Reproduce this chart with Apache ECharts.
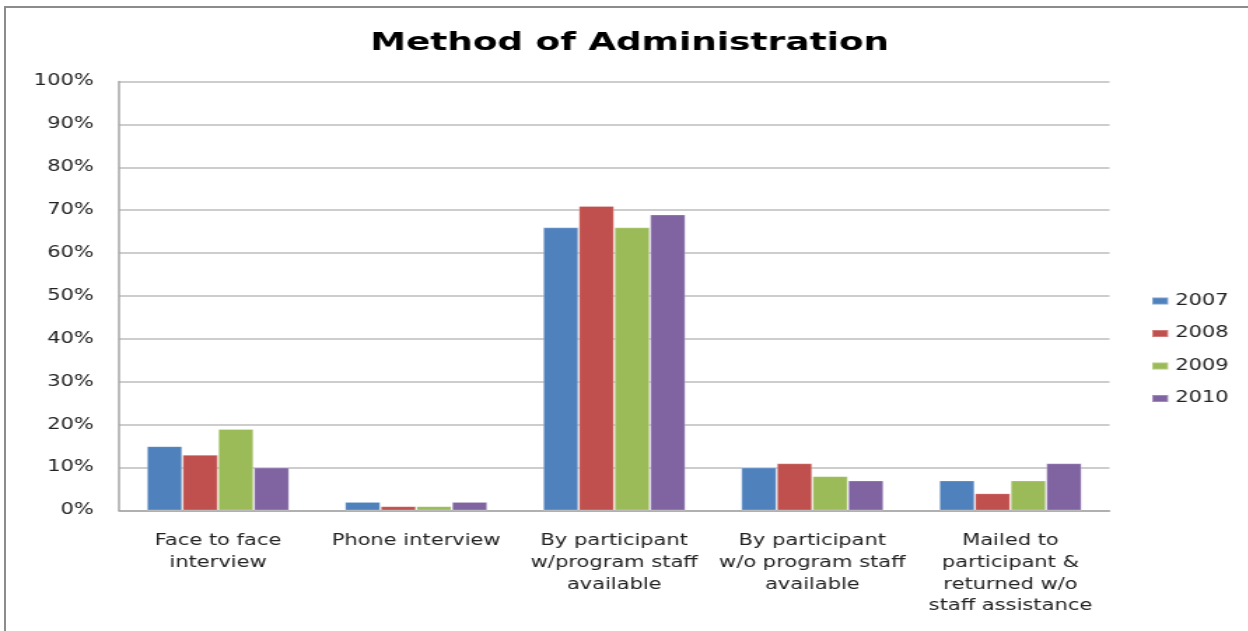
<!DOCTYPE html>
<html>
<head>
<meta charset="utf-8">
<title>Method of Administration</title>
<script src="https://cdn.jsdelivr.net/npm/echarts@6/dist/echarts.min.js"></script>
<style>
  html, body { margin: 0; padding: 0; background: #fff; }
  #wrap { position: relative; width: 1248px; height: 631px; overflow: hidden; background: #fff; }
  #frame { position: absolute; left: 4px; top: 6px; width: 1300px; height: 700px; border: 2px solid #8c8c8c; box-sizing: border-box; }
  /* the chart is laid out on a narrower canvas and widened, giving the broad lettering of the original slide */
  #chart { position: absolute; left: 0; top: 0; width: 891.43px; height: 631px; transform: scaleX(1.4); transform-origin: 0 0; }
</style>
</head>
<body>
<div id="wrap">
  <div id="frame"></div>
  <div id="chart"></div>
</div>
<script>
// Administration methods (x axis)
const categories = [
  'Face to face\ninterview',
  'Phone interview',
  'By participant\nw/program staff\navailable',
  'By participant\nw/o program staff\navailable',
  'Mailed to\nparticipant &\nreturned w/o\nstaff assistance'
];

// Share of respondents per year, in percent
const years = ['2007', '2008', '2009', '2010'];
const values2007 = [15, 2, 66, 10, 7];
const values2008 = [13, 1, 71, 11, 4];
const values2009 = [19, 1, 66, 8, 7];
const values2010 = [10, 2, 69, 7, 11];

const yearValues = [values2007, values2008, values2009, values2010];
const colors = ['#4F81BD', '#C0504D', '#9BBB59', '#8064A2'];

const font = 'DejaVu Sans';
const chart = echarts.init(document.getElementById('chart'), null, { renderer: 'canvas' });

chart.setOption({
  backgroundColor: 'transparent',
  animation: false,
  color: colors,
  title: {
    text: 'Method of Administration',
    left: 259.5,
    top: 25,
    textStyle: { fontFamily: font, fontWeight: 'bold', fontSize: 25.6, color: '#000' }
  },
  legend: {
    orient: 'vertical',
    left: 817,
    top: 288,
    itemWidth: 11.4,
    itemHeight: 7,
    itemGap: 16.5,
    icon: 'rect',
    textStyle: { fontFamily: font, fontSize: 15, color: '#222', lineHeight: 16, padding: [0, 0, 0, 0] },
    data: years
  },
  grid: {
    left: 85,
    right: 98.5,
    top: 81.5,
    bottom: 120.5,
    containLabel: false
  },
  xAxis: {
    type: 'category',
    data: categories,
    axisLine: { show: true, lineStyle: { color: '#a6a6a6', width: 1.5 } },
    axisTick: { show: false },
    axisLabel: {
      interval: 0,
      margin: 20,
      fontFamily: font,
      fontSize: 15,
      lineHeight: 21.7,
      color: '#222',
      align: 'center'
    }
  },
  yAxis: {
    type: 'value',
    min: 0,
    max: 100,
    interval: 10,
    axisLine: { show: true, lineStyle: { color: '#a6a6a6', width: 1.5 } },
    axisTick: { show: false },
    splitLine: { show: true, lineStyle: { color: '#bdbdbd', width: 1.5 } },
    axisLabel: {
      formatter: '{value}%',
      margin: 18,
      fontFamily: font,
      fontSize: 15,
      color: '#222'
    }
  },
  series: years.map((y, i) => ({
    name: y,
    type: 'bar',
    data: yearValues[i],
    barGap: '0%',
    barCategoryGap: '28%',
    itemStyle: { color: colors[i], borderColor: 'rgba(255,255,255,0.25)', borderWidth: 1 }
  }))
});
</script>
</body>
</html>
